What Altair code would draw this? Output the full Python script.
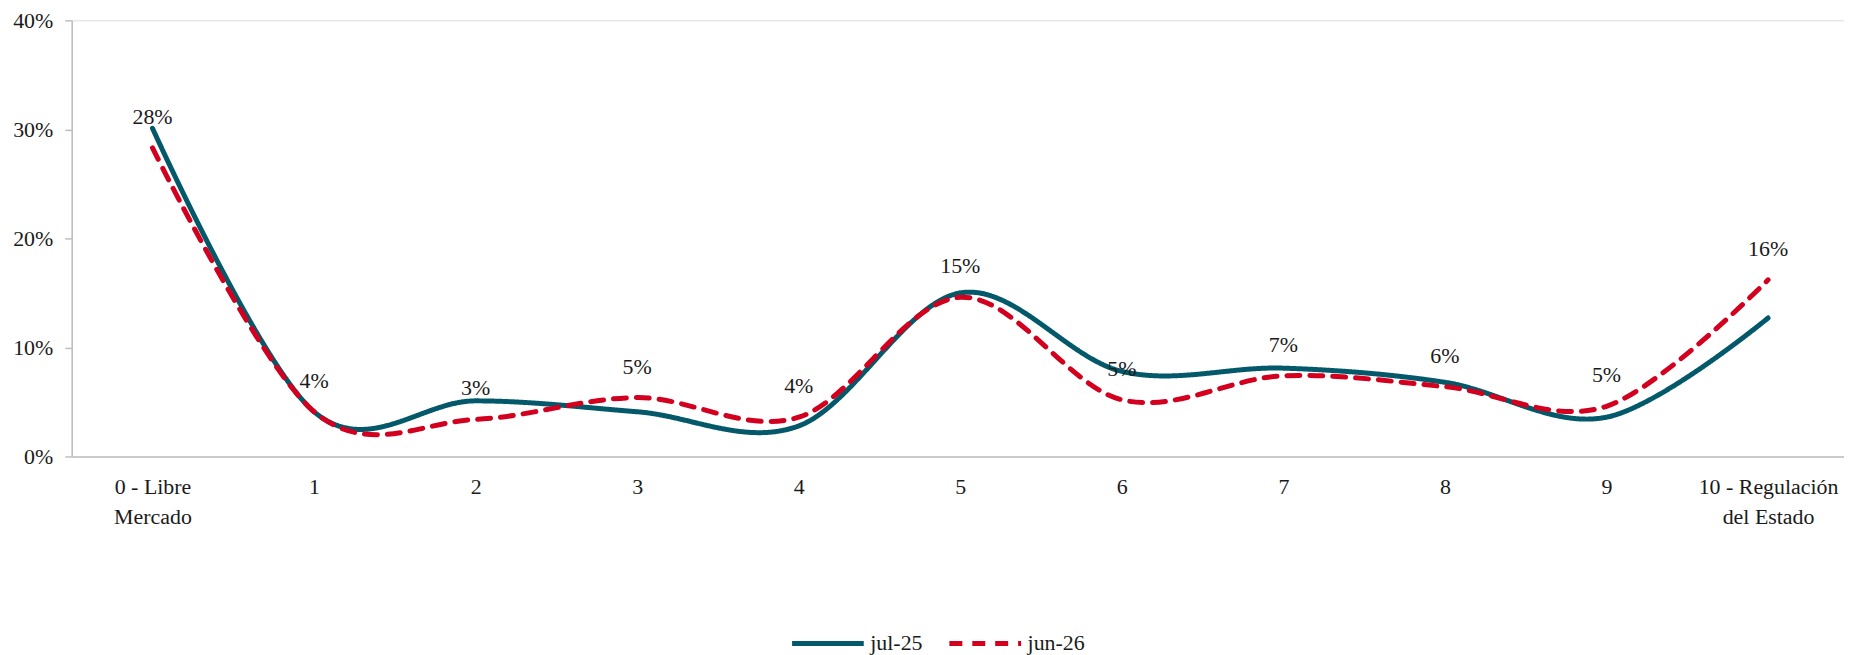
import altair as alt
import pandas as pd
import json

categories = ["0 - Libre|Mercado", "1", "2", "3", "4", "5", "6", "7", "8", "9", "10 - Regulación|del Estado"]
jul_25 = [30.1, 4.1, 5.1, 4.1, 2.8, 15.0, 7.8, 8.1, 6.8, 3.6, 12.7]
jun_26 = [28.3, 4.1, 3.4, 5.4, 3.6, 14.6, 5.2, 7.4, 6.4, 4.6, 16.2]
series_names = ["jul-25", "jun-26"]
series_colors = ["#03596a", "#d2001e"]

rows = []
for name, vals in zip(series_names, [jul_25, jun_26]):
    for i, (c, v) in enumerate(zip(categories, vals)):
        rows.append({"idx": i, "cat": c, "serie": name, "valor": v / 100.0})
df = pd.DataFrame(rows)

label_lines = [c.split("|") for c in categories]
label_expr = json.dumps(label_lines, ensure_ascii=False) + "[datum.value]"

FONT = "Liberation Serif"
TXT = "#1a1a1a"
GRAY = "#bfbfbf"
FS = 22

x_enc = alt.X("idx:Q", scale=alt.Scale(domain=[-0.5, 10.47], nice=False, zero=False),
              axis=alt.Axis(title=None, values=list(range(len(categories))), labelAngle=0, ticks=False,
                            domainColor=GRAY, domainWidth=1.5, labelExpr=label_expr,
                            labelFont=FONT, labelFontSize=FS, labelColor=TXT, labelPadding=20,
                            labelLineHeight=30, grid=False, labelFlush=False, labelOverlap=False))
y_enc = alt.Y("valor:Q", scale=alt.Scale(domain=[0, 0.4], nice=False),
              axis=alt.Axis(title=None, values=[0, 0.1, 0.2, 0.3, 0.4], format=".0%", grid=False,
                            domainColor=GRAY, domainWidth=1.5, tickColor=GRAY, tickWidth=1.5, tickSize=7,
                            labelFont=FONT, labelFontSize=FS, labelColor=TXT, labelPadding=12))

leg = alt.Legend(title=None, orient="none", legendX=721, legendY=587,
                 direction="horizontal", symbolType="stroke", symbolSize=5184,
                 symbolStrokeWidth=5, labelFont=FONT, labelFontSize=FS,
                 labelColor=TXT, labelOffset=4, columnPadding=16, padding=0)

lines = alt.Chart(df).mark_line(interpolate="cardinal", strokeWidth=5, strokeCap="round").encode(
    x=x_enc,
    y=y_enc,
    color=alt.Color("serie:N", scale=alt.Scale(domain=series_names, range=series_colors), legend=leg),
    strokeDash=alt.StrokeDash("serie:N", scale=alt.Scale(domain=series_names, range=[[1, 0], [13, 10]]),
                              legend=leg),
    order=alt.Order("idx:Q"),
)

labels = alt.Chart(df).transform_filter(alt.datum.serie == "jun-26").mark_text(
    dy=-31, fontSize=FS, font=FONT, color=TXT, baseline="middle", align="center"
).encode(
    x=alt.X("idx:Q"),
    y=alt.Y("valor:Q"),
    text=alt.Text("valor:Q", format=".0%"),
)

chart = alt.layer(lines, labels).properties(
    width=1780, height=438,
    padding={"left": 64, "top": 11, "right": 0, "bottom": 198},
    autosize=alt.AutoSizeParams(type="none"),
).configure_view(stroke=None).configure(background="white")

chart.save("out.html", embed_options={"renderer": "svg", "actions": False})
